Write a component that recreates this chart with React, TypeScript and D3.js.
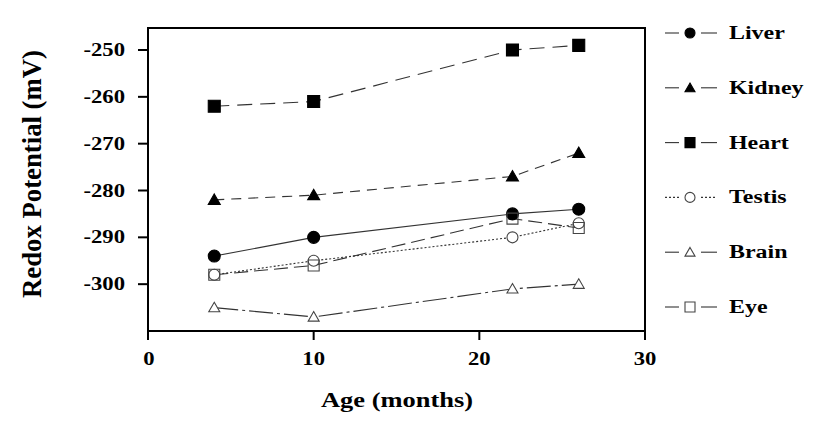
import React from "react";
import * as d3 from "d3";

// ages sampled (months)
const ages = [4, 10, 22, 26];

// redox potential (mV) per tissue
const liver = [-294, -290, -285, -284];
const kidney = [-282, -281, -277, -272];
const heart = [-262, -261, -250, -249];
const testis = [-298, -295, -290, -287];
const brain = [-305, -307, -301, -300];
const eye = [-298, -296, -286, -288];

const xTicks = [0, 10, 20, 30];
const yTicks = [-300, -290, -280, -270, -260, -250];

type Shape = "circle" | "triangle" | "square";

const series = [
  { name: "Liver", values: liver, shape: "circle" as Shape, filled: true, dash: "none" },
  { name: "Kidney", values: kidney, shape: "triangle" as Shape, filled: true, dash: "10,7" },
  { name: "Heart", values: heart, shape: "square" as Shape, filled: true, dash: "15,8" },
  { name: "Testis", values: testis, shape: "circle" as Shape, filled: false, dash: "2,2" },
  { name: "Brain", values: brain, shape: "triangle" as Shape, filled: false, dash: "24,4,3,4" },
  { name: "Eye", values: eye, shape: "square" as Shape, filled: false, dash: "14,6" },
];

const W = 814;
const H = 426;
const SX = 1.26; // source image is stretched horizontally
const txt = { fontFamily: "Liberation Serif, Times New Roman, Times, serif", fontWeight: 700 } as React.CSSProperties;

function Marker({ cx, cy, shape, filled, size, hollow }: { cx: number; cy: number; shape: Shape; filled: boolean; size: number; hollow?: boolean }) {
  const fill = filled ? "#000" : hollow ? "none" : "#fff";
  const stroke = filled ? "#000" : "#444";
  const sym =
    shape === "circle" ? d3.symbolCircle : shape === "triangle" ? d3.symbolTriangle : d3.symbolSquare;
  const area = shape === "circle" ? Math.PI * (size / 2) ** 2 : shape === "triangle" ? (size * size * Math.sqrt(3)) / 4 : size * size;
  const path = d3.symbol().type(sym).size(area)() as string;
  return (
    <path
      d={path}
      transform={`translate(${cx},${cy + (shape === "triangle" ? 1 : 0)})`}
      fill={fill}
      stroke={stroke}
      strokeWidth={1.1}
    />
  );
}

export default function App() {
  const x = d3.scaleLinear().domain([0, 30]).range([148, 645]);
  const y = d3.scaleLinear().domain([-310, -245.3]).range([331, 28]);

  const line = d3
    .line<number>()
    .x((_, i) => x(ages[i]))
    .y((d) => y(d));

  const legendY = (i: number) => 33 + i * 54.8;

  return (
    <svg width={W} height={H} style={{ position: "absolute", left: 0, top: 0, background: "#fff" }}>
      <rect width={W} height={H} fill="#fff" />

      {/* series lines */}
      {series.map((s) => (
        <path
          key={s.name + "-line"}
          d={line(s.values) as string}
          fill="none"
          stroke="#333"
          strokeWidth={1.1}
          strokeDasharray={s.dash}
        />
      ))}
      {/* markers */}
      {series.map((s) =>
        s.values.map((v, i) => (
          <Marker
            key={s.name + i}
            cx={x(ages[i])}
            cy={y(v)}
            shape={s.shape}
            filled={s.filled}
            hollow={s.name === "Eye"}
            size={s.filled ? 12 : 11}
          />
        ))
      )}

      {/* frame */}
      <rect x={x(0)} y={y(-245.3)} width={x(30) - x(0)} height={y(-310) - y(-245.3)} fill="none" stroke="#000" strokeWidth={2} />

      {/* y axis */}
      {yTicks.map((t) => (
        <g key={"y" + t}>
          <line x1={x(0) - 10} x2={x(0)} y1={y(t)} y2={y(t)} stroke="#000" strokeWidth={2} />
          <text transform={`translate(125,${y(t) + 6}) scale(${SX},1)`} textAnchor="end" style={txt} fontSize={18}>
            {t}
          </text>
        </g>
      ))}

      {/* x axis */}
      {xTicks.map((t) => (
        <g key={"x" + t}>
          <line x1={x(t)} x2={x(t)} y1={y(-310)} y2={y(-310) + 9} stroke="#000" strokeWidth={2} />
          <text
            transform={`translate(${x(t) + (t === 0 ? 1 : 0)},365) scale(${SX},1)`}
            textAnchor="middle"
            style={txt}
            fontSize={18}
          >
            {t}
          </text>
        </g>
      ))}

      <text transform={`translate(397,407) scale(${SX},1)`} textAnchor="middle" style={txt} fontSize={21}>
        Age (months)
      </text>
      <text
        transform={`translate(41,174) scale(${SX},1) rotate(-90)`}
        textAnchor="middle"
        style={txt}
        fontSize={21}
        textLength={248}
        lengthAdjust="spacingAndGlyphs"
      >
        Redox Potential (mV)
      </text>

      {/* legend */}
      {series.map((s, i) => {
        const ly = legendY(i);
        const d = s.dash === "2,2" ? "2,2" : "none";
        return (
          <g key={s.name + "-leg"}>
            <line x1={665} x2={679} y1={ly} y2={ly} stroke="#333" strokeWidth={1.1} strokeDasharray={d} />
            <line x1={701} x2={717} y1={ly} y2={ly} stroke="#333" strokeWidth={1.1} strokeDasharray={d} />
            <Marker cx={690} cy={ly} shape={s.shape} filled={s.filled} size={10} />
            <text transform={`translate(729,${ly + 6}) scale(${SX},1)`} style={txt} fontSize={19}>
              {s.name}
            </text>
          </g>
        );
      })}
    </svg>
  );
}
